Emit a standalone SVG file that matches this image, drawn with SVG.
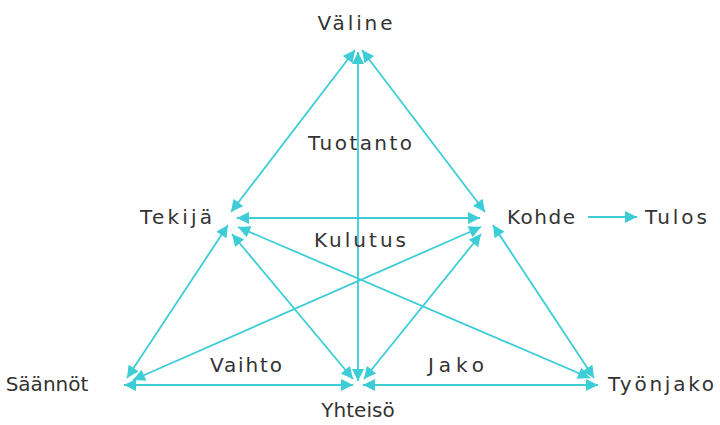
<svg xmlns="http://www.w3.org/2000/svg" width="720" height="425" viewBox="0 0 720 425">
<defs>
<marker id="ah" viewBox="0 0 10 10" refX="10" refY="5" markerWidth="13" markerHeight="12" markerUnits="userSpaceOnUse" orient="auto-start-reverse"><path d="M0,0 L10,5 L0,10 z" fill="#3ccdd6"/></marker>
<style>
.c line{stroke:#3ccdd6;stroke-width:1.8;fill:none;marker-start:url(#ah);marker-end:url(#ah)}
.c line.one{marker-start:none}
text{font-family:"Comic Sans MS","DejaVu Sans",sans-serif;font-size:20px;fill:#333;text-anchor:middle}
</style>
</defs>
<rect width="720" height="425" fill="#fff"/>
<g class="c" id="connectors">
<line x1="355" y1="50" x2="231" y2="212"/>
<line x1="362" y1="50" x2="485" y2="212"/>
<line x1="358" y1="52" x2="358" y2="381"/>
<line x1="237" y1="218" x2="480" y2="218"/>
<line x1="228" y1="225" x2="127" y2="378"/>
<line x1="493" y1="225" x2="594" y2="378"/>
<line x1="124" y1="385" x2="353" y2="385"/>
<line x1="363" y1="385" x2="598" y2="385"/>
<line x1="232" y1="234" x2="353" y2="379"/>
<line x1="481" y1="234" x2="364" y2="379"/>
<line x1="238" y1="227" x2="590" y2="378"/>
<line x1="481" y1="227" x2="133" y2="380"/>
<line class="one" x1="588" y1="217" x2="637" y2="217"/>
</g>
<g id="valine"><text x="355" y="30" textLength="75" lengthAdjust="spacing">Väline</text></g>
<g id="tuotanto"><text x="360" y="150" textLength="104" lengthAdjust="spacing">Tuotanto</text></g>
<g id="tekija"><text x="176" y="224" textLength="72" lengthAdjust="spacing">Tekijä</text></g>
<g id="kohde"><text x="541" y="224" textLength="68" lengthAdjust="spacing">Kohde</text></g>
<g id="tulos"><text x="676" y="224" textLength="62" lengthAdjust="spacing">Tulos</text></g>
<g id="kulutus"><text x="360" y="247" textLength="92" lengthAdjust="spacing">Kulutus</text></g>
<g id="vaihto"><text x="246" y="372" textLength="72" lengthAdjust="spacing">Vaihto</text></g>
<g id="jako"><text x="456" y="372" textLength="56" lengthAdjust="spacing">Jako</text></g>
<g id="saannot"><text x="47" y="391">Säännöt</text></g>
<g id="tyonjako"><text x="661" y="391" textLength="106" lengthAdjust="spacing">Työnjako</text></g>
<g id="yhteiso"><text x="358" y="417">Yhteisö</text></g>
</svg>
